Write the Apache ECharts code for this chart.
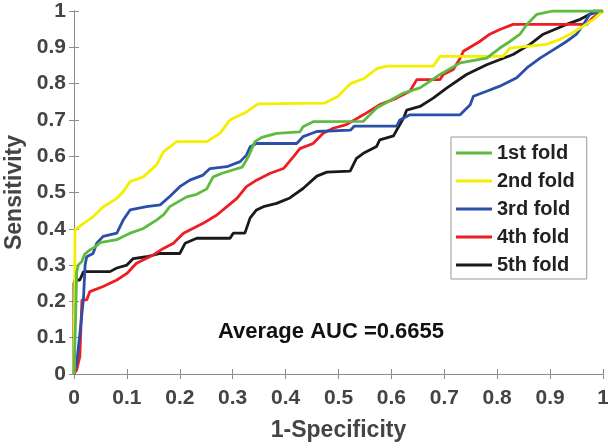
<!DOCTYPE html>
<html>
<head>
<meta charset="utf-8">
<script src="https://cdn.jsdelivr.net/npm/echarts@6/dist/echarts.min.js"></script>
<style>
html,body{margin:0;padding:0;background:#fff;}
#chart{width:608px;height:448px;}
</style>
</head>
<body>
<div id="chart"></div>
<script>
var seriesNames = ['1st fold', '2nd fold', '3rd fold', '4th fold', '5th fold'];
var tickLabels = ['0', '0.1', '0.2', '0.3', '0.4', '0.5', '0.6', '0.7', '0.8', '0.9', '1'];
var aucText = 'Average AUC =0.6655';

var fold1 = [[0,0],[0.003,0.15],[0.005,0.28],[0.008,0.30],[0.015,0.31],[0.02,0.33],[0.03,0.342],[0.04,0.35],[0.049,0.362],[0.081,0.37],[0.095,0.38],[0.106,0.388],[0.13,0.40],[0.156,0.424],[0.17,0.44],[0.181,0.461],[0.213,0.488],[0.232,0.495],[0.251,0.51],[0.263,0.543],[0.28,0.553],[0.30,0.562],[0.318,0.57],[0.33,0.6],[0.342,0.64],[0.355,0.652],[0.383,0.663],[0.427,0.667],[0.433,0.681],[0.452,0.695],[0.547,0.696],[0.572,0.733],[0.623,0.774],[0.654,0.788],[0.692,0.825],[0.73,0.857],[0.78,0.87],[0.805,0.898],[0.824,0.916],[0.843,0.936],[0.856,0.963],[0.875,0.991],[0.905,1],[1,1]];
var fold2 = [[0,0],[0.002,0.397],[0.018,0.415],[0.036,0.433],[0.055,0.46],[0.081,0.484],[0.093,0.502],[0.106,0.53],[0.131,0.543],[0.156,0.576],[0.169,0.612],[0.194,0.64],[0.251,0.64],[0.276,0.663],[0.295,0.70],[0.326,0.722],[0.348,0.744],[0.473,0.746],[0.498,0.764],[0.523,0.80],[0.548,0.814],[0.573,0.842],[0.592,0.848],[0.679,0.848],[0.692,0.875],[0.811,0.875],[0.824,0.898],[0.893,0.908],[0.919,0.922],[0.938,0.936],[0.957,0.953],[0.982,0.977],[1,1]];
var fold3 = [[0,0],[0.005,0.03],[0.011,0.11],[0.018,0.21],[0.021,0.3],[0.024,0.323],[0.036,0.332],[0.043,0.36],[0.055,0.379],[0.081,0.388],[0.093,0.424],[0.106,0.452],[0.137,0.461],[0.163,0.466],[0.181,0.489],[0.20,0.516],[0.219,0.534],[0.244,0.548],[0.257,0.566],[0.289,0.571],[0.314,0.585],[0.326,0.603],[0.333,0.626],[0.345,0.635],[0.421,0.635],[0.433,0.654],[0.459,0.668],[0.523,0.672],[0.53,0.683],[0.61,0.683],[0.616,0.70],[0.635,0.714],[0.73,0.714],[0.749,0.742],[0.755,0.765],[0.78,0.779],[0.805,0.793],[0.837,0.816],[0.856,0.843],[0.881,0.87],[0.906,0.893],[0.931,0.916],[0.95,0.936],[0.963,0.963],[0.975,0.991],[1,1]];
var fold4 = [[0,0],[0.005,0.011],[0.011,0.048],[0.015,0.204],[0.024,0.204],[0.03,0.227],[0.055,0.241],[0.081,0.259],[0.10,0.277],[0.118,0.305],[0.15,0.328],[0.169,0.346],[0.188,0.36],[0.207,0.388],[0.244,0.415],[0.27,0.438],[0.289,0.461],[0.308,0.484],[0.326,0.516],[0.345,0.534],[0.371,0.553],[0.396,0.566],[0.415,0.599],[0.427,0.621],[0.452,0.635],[0.471,0.663],[0.49,0.677],[0.515,0.687],[0.547,0.714],[0.578,0.742],[0.61,0.76],[0.635,0.779],[0.648,0.811],[0.692,0.811],[0.698,0.825],[0.717,0.839],[0.73,0.87],[0.736,0.889],[0.767,0.916],[0.786,0.936],[0.805,0.949],[0.83,0.963],[0.969,0.963],[0.98,0.98],[1,1]];
var fold5 = [[0,0],[0,0.25],[0.002,0.259],[0.011,0.259],[0.018,0.282],[0.068,0.282],[0.081,0.292],[0.10,0.30],[0.112,0.318],[0.137,0.323],[0.163,0.332],[0.20,0.332],[0.21,0.36],[0.232,0.374],[0.295,0.374],[0.301,0.388],[0.323,0.388],[0.333,0.43],[0.345,0.452],[0.358,0.461],[0.383,0.47],[0.408,0.485],[0.433,0.511],[0.459,0.545],[0.478,0.556],[0.522,0.559],[0.534,0.594],[0.547,0.608],[0.572,0.627],[0.578,0.645],[0.604,0.656],[0.61,0.672],[0.623,0.705],[0.629,0.727],[0.654,0.737],[0.679,0.76],[0.705,0.788],[0.742,0.825],[0.78,0.852],[0.83,0.88],[0.862,0.908],[0.887,0.936],[0.931,0.963],[0.957,0.977],[0.975,0.991],[0.982,1],[1,1]];

var colors = ['#5fbb3f', '#f4ee00', '#2b4fa8', '#ef1c24', '#1a1a1a'];
var folds = [fold1, fold2, fold3, fold4, fold5];

var fontFam = 'Arial, "Liberation Sans", Helvetica, sans-serif';
var axisColor = '#8c8c8c';
var labelColor = '#444444';

var chart = echarts.init(document.getElementById('chart'), null, {renderer: 'canvas'});

function baseAxis(extra) {
  var a = {
    type: 'value', min: 0, max: 1, interval: 0.1,
    axisLine: {show: true, lineStyle: {color: axisColor, width: 1}},
    axisTick: {show: true, inside: true, length: 5, lineStyle: {color: axisColor}},
    splitLine: {show: false},
    axisLabel: {show: false}
  };
  for (var k in extra) a[k] = extra[k];
  return a;
}

var series = folds.map(function (d, i) {
  return {
    name: seriesNames[i], type: 'line', data: d, xAxisIndex: 0, yAxisIndex: 0,
    symbol: 'none', lineStyle: {color: colors[i], width: 2.8}, itemStyle: {color: colors[i]},
    z: 10 - i, animation: false
  };
});

chart.setOption({
  animation: false,
  backgroundColor: '#ffffff',
  grid: {left: 74, top: 11, right: 5, bottom: 74, containLabel: false, outerBoundsMode: 'none'},
  xAxis: [
    baseAxis({position: 'bottom',
      name: '1-Specificity', nameLocation: 'middle', nameGap: 45,
      nameTextStyle: {fontFamily: fontFam, fontWeight: 'bold', fontSize: 23, color: labelColor},
      axisLabel: {show: true, margin: 14, fontFamily: fontFam, fontWeight: 'bold', fontSize: 21, color: labelColor,
        formatter: function (v) { return tickLabels[Math.round(v * 10)]; }}}),
    baseAxis({position: 'top'})
  ],
  yAxis: [
    baseAxis({position: 'left',
      name: 'Sensitivity', nameLocation: 'middle', nameGap: 47,
      nameTextStyle: {fontFamily: fontFam, fontWeight: 'bold', fontSize: 23, color: labelColor},
      axisLabel: {show: true, margin: 8, fontFamily: fontFam, fontWeight: 'bold', fontSize: 21, color: labelColor,
        formatter: function (v) { return tickLabels[Math.round(v * 10)]; }}}),
    baseAxis({position: 'right'})
  ],
  legend: {
    orient: 'vertical', left: 451, top: 137,
    data: seriesNames,
    icon: 'rect', itemWidth: 36, itemHeight: 3, itemGap: 8,
    padding: [6, 12, 4, 5],
    backgroundColor: '#ffffff', borderColor: '#999999', borderWidth: 1,
    textStyle: {fontFamily: fontFam, fontWeight: 'bold', fontSize: 20, color: '#222222', lineHeight: 20}
  },
  graphic: [{
    type: 'text', left: 218, top: 321, z: 100,
    style: {text: aucText, fontFamily: fontFam, fontWeight: 'bold', fontSize: 22, fill: '#111111'}
  }],
  series: series
});
</script>
</body>
</html>
